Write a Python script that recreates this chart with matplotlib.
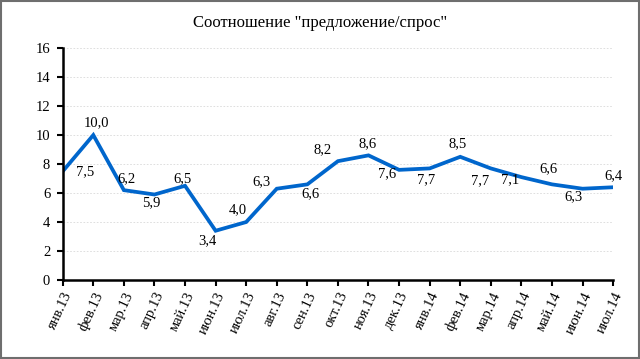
import matplotlib.pyplot as plt
from matplotlib.patches import Rectangle

plt.rcParams['font.family'] = ['Liberation Serif', 'DejaVu Serif']

months = ["янв.13", "фев.13", "мар.13", "апр.13", "май.13", "июн.13", "июл.13",
          "авг.13", "сен.13", "окт.13", "ноя.13", "дек.13", "янв.14", "фев.14",
          "мар.14", "апр.14", "май.14", "июн.14", "июл.14"]
ratio = [7.5, 10.0, 6.2, 5.9, 6.5, 3.4, 4.0, 6.3, 6.6, 8.2, 8.6, 7.6, 7.7, 8.5,
         7.7, 7.1, 6.6, 6.3, 6.4]
# label offsets in pixels (dx, dy) relative to the point
label_offsets = [(22, 0), (3, 12), (3, 11), (-3, -8), (-3, 7), (-8, -10), (-8, 12),
                 (-15, 7), (3, -9), (-15, 11), (-1, 12), (-12, -4), (-4, -11), (-3, 13),
                 (-11, -12), (-11, -3), (-4, 16), (-9, -8), (0, 12)]

fig = plt.figure(figsize=(6.4, 3.59), dpi=100)
ax = fig.add_axes([0.098, 0.22, 0.86, 0.646])

x = list(range(len(months)))
ax.plot(x, ratio, color="#0066cc", linewidth=2.7, solid_joinstyle="miter")

for xi, v, (dx, dy) in zip(x, ratio, label_offsets):
    ax.annotate(f"{v:.1f}".replace(".", ","), (xi, v), xytext=(dx, dy),
                textcoords="offset pixels", ha="center", va="center", fontsize=10.5)

ax.set_xlim(0, len(months) - 1)
ax.set_ylim(0, 16)
ax.set_yticks(range(0, 17, 2))
ax.set_xticks(x)
ax.set_xticklabels(months, rotation=65, ha="right", rotation_mode="anchor", fontsize=10.5)
ax.tick_params(axis="y", labelsize=10.5, direction="out", length=4, width=1.5, pad=5)
ax.tick_params(axis="x", direction="out", length=4, width=1.5, pad=3)
ax.grid(axis="y", color="#d9d9d9", linestyle=(0, (2, 2)), linewidth=0.6)
ax.set_axisbelow(True)
for side in ["top", "right"]:
    ax.spines[side].set_visible(False)
for side in ["left", "bottom"]:
    ax.spines[side].set_linewidth(1.8)

fig.text(0.5, 0.935, 'Соотношение "предложение/спрос"', ha="center", va="center", fontsize=12)

fig.patches.append(Rectangle((0.002, 0.002), 0.996, 0.996, transform=fig.transFigure,
                             fill=False, edgecolor="#6e6e6e", linewidth=1.5))

fig.savefig("out.png", dpi=100)
